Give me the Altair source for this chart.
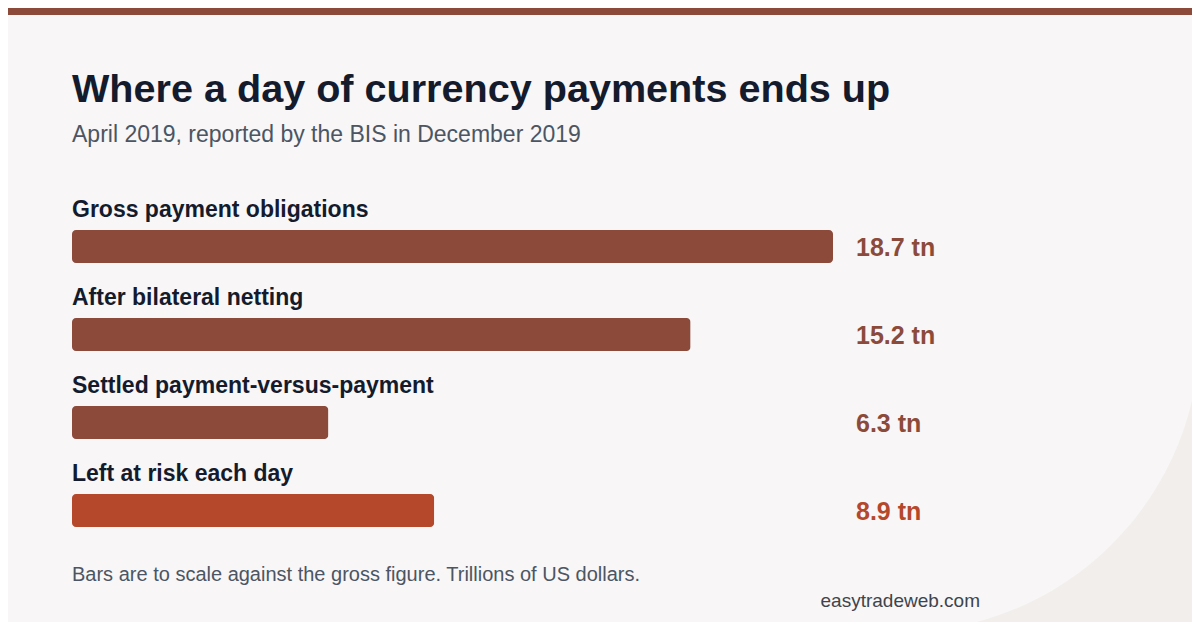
import altair as alt
import pandas as pd

# values
categories = [
    "Gross payment obligations",
    "After bilateral netting",
    "Settled payment-versus-payment",
    "Left at risk each day",
]
values = [18.7, 15.2, 6.3, 8.9]
value_labels = ["18.7 tn", "15.2 tn", "6.3 tn", "8.9 tn"]
bar_colors = ["#8B4A3A", "#8B4A3A", "#8B4A3A", "#B5472B"]

title = "Where a day of currency payments ends up"
subtitle = "April 2019, reported by the BIS in December 2019"
footnote = "Bars are to scale against the gross figure. Trillions of US dollars."
site = "easytradeweb.com"

df = pd.DataFrame({"category": categories, "value": values, "label": value_labels})

FONT = "Liberation Sans"
INK = "#141B2D"
GREY = "#4B5563"

x_scale = alt.Scale(domain=[0, max(values)], range=[64, 825], nice=False, zero=True)
y_scale = alt.Scale(domain=categories, range=[194.5, 546.5], paddingInner=0, paddingOuter=0)
color_scale = alt.Scale(domain=categories, range=bar_colors)

one = alt.Data(values=[{}])

# decoration: pale card with a big rounded corner, brown strip on top
card = alt.Chart(one).mark_rect(
    color="#F8F6F6", cornerRadiusBottomRight=300
).encode(
    x=alt.value(-10), x2=alt.value(1192), y=alt.value(-10), y2=alt.value(624)
)
strip = alt.Chart(one).mark_rect(color="#8B4A3A").encode(
    x=alt.value(-10), x2=alt.value(1200), y=alt.value(-10), y2=alt.value(7)
)

base = alt.Chart(df)

bars = base.mark_bar(size=33, cornerRadius=4).encode(
    x=alt.X("value:Q", scale=x_scale, axis=None),
    y=alt.Y("category:N", scale=y_scale, axis=None),
    color=alt.Color("category:N", scale=color_scale, legend=None),
)

names = base.mark_text(
    align="left", baseline="alphabetic", dy=-30,
    font=FONT, fontSize=23, fontWeight="bold", color=INK,
).encode(
    x=alt.X(datum=0, scale=x_scale),
    y=alt.Y("category:N", scale=y_scale, axis=None),
    text="category:N",
)

amounts = base.mark_text(
    align="left", baseline="alphabetic", dx=23, dy=9,
    font=FONT, fontSize=25, fontWeight="bold",
).encode(
    x=alt.X(datum=max(values), scale=x_scale),
    y=alt.Y("category:N", scale=y_scale, axis=None),
    text="label:N",
    color=alt.Color("category:N", scale=color_scale, legend=None),
)

head = alt.Chart(one).mark_text(
    text=title, align="left", baseline="alphabetic",
    font=FONT, fontSize=39.6, fontWeight="bold", color=INK,
).encode(x=alt.value(64), y=alt.value(94.3))

sub = alt.Chart(one).mark_text(
    text=subtitle, align="left", baseline="alphabetic",
    font=FONT, fontSize=23, color=GREY,
).encode(x=alt.value(64), y=alt.value(133.7))

note = alt.Chart(one).mark_text(
    text=footnote, align="left", baseline="alphabetic",
    font=FONT, fontSize=20, color=GREY,
).encode(x=alt.value(64), y=alt.value(572.7))

brand = alt.Chart(one).mark_text(
    text=site, align="right", baseline="alphabetic",
    font=FONT, fontSize=19, color="#3F444C",
).encode(x=alt.value(972), y=alt.value(598.7))

chart = (
    alt.layer(card, strip, bars, names, amounts, head, sub, note, brand)
    .properties(
        width=1184,
        height=614,
        padding=0,
        autosize=alt.AutoSizeParams(type="none"),
        background="#F2EEEC",
    )
    .configure_view(stroke=None, fill=None)
)

chart.save("out.html", embed_options={"renderer": "svg", "actions": False})
